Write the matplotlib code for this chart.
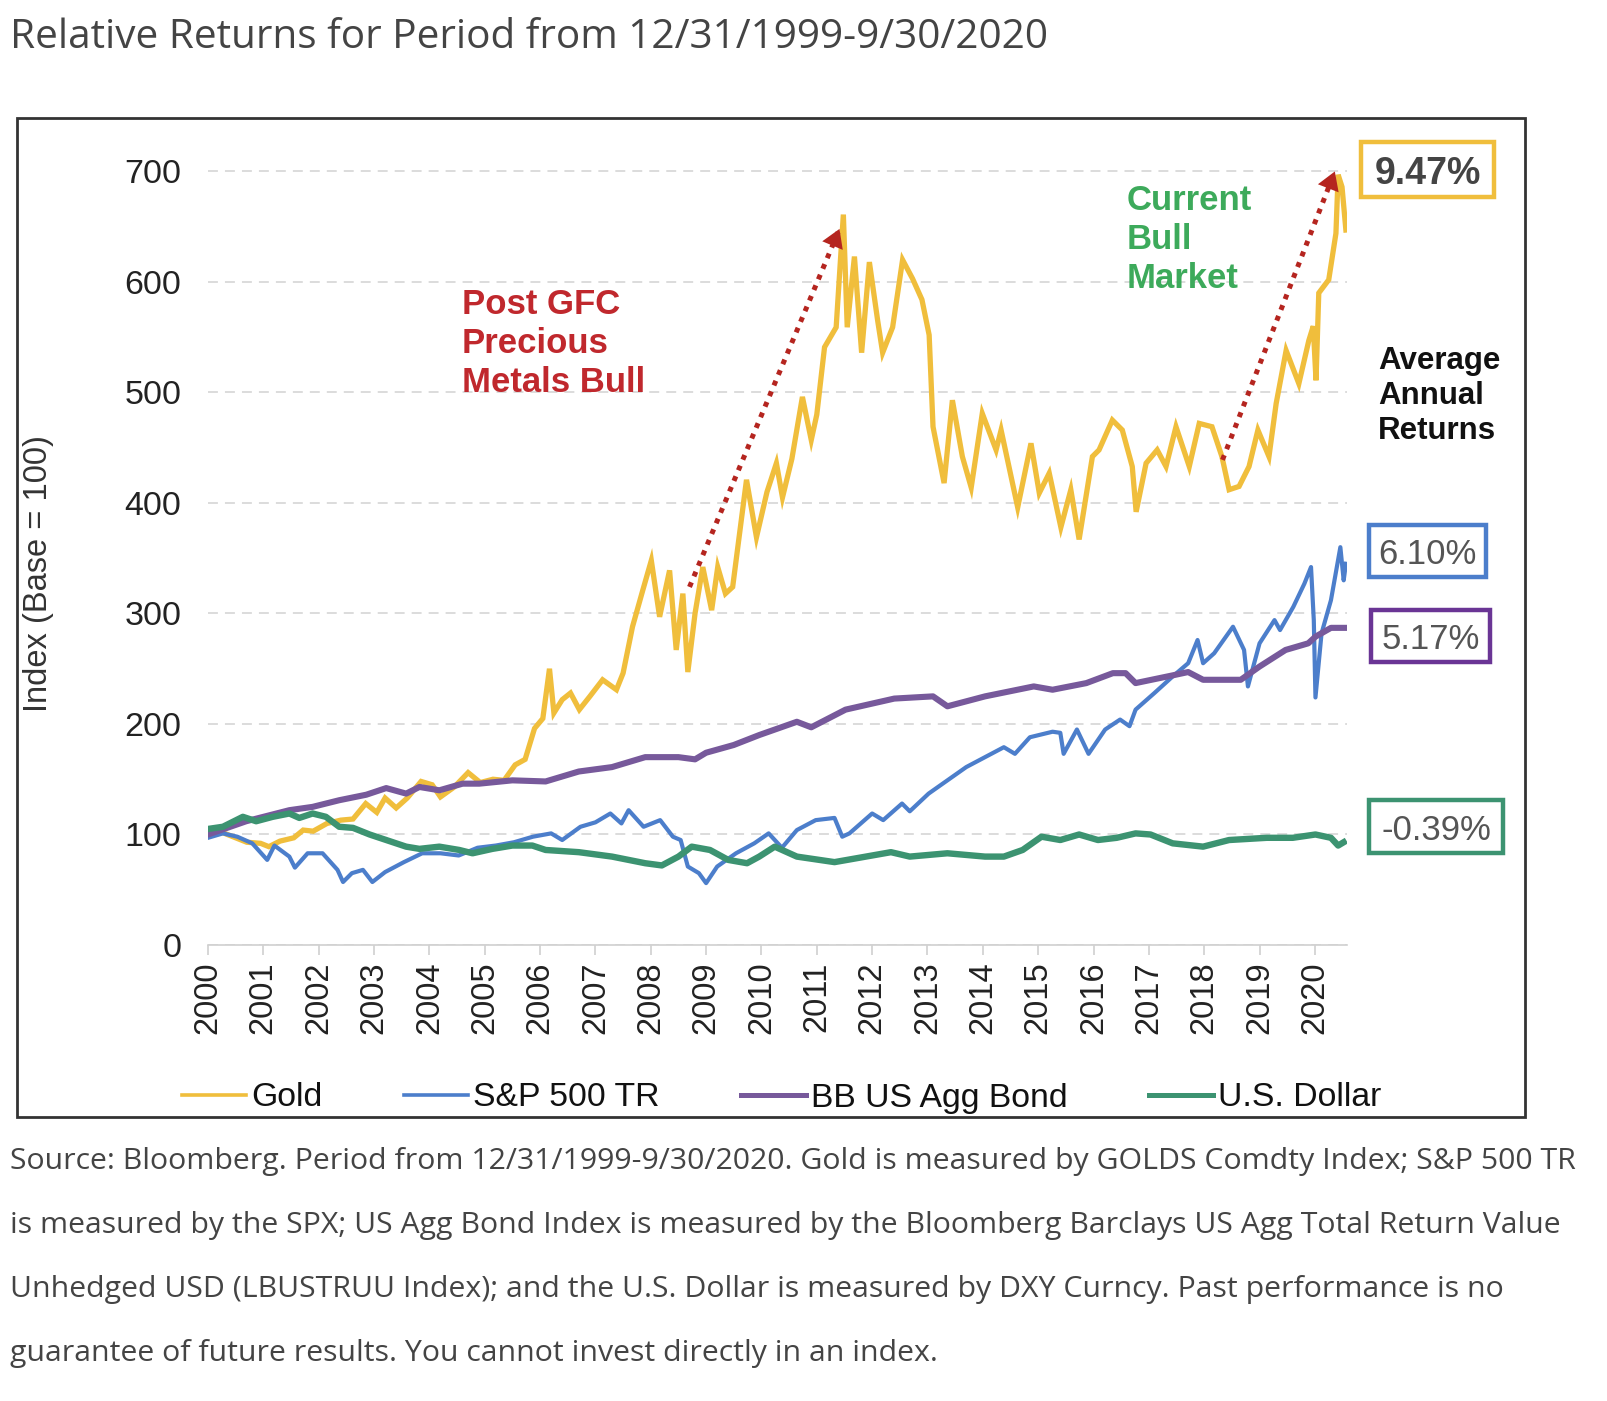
import matplotlib
matplotlib.use("Agg")
import matplotlib.pyplot as plt
from matplotlib.lines import Line2D
from matplotlib.patches import Rectangle

# ---- data (decimal year, index level) ----
gold_x = [2000.00, 2000.20, 2000.45, 2000.70, 2000.95, 2001.10, 2001.30, 2001.55, 2001.72, 2001.90,
          2002.15, 2002.40, 2002.62, 2002.85, 2003.05, 2003.20, 2003.40, 2003.60, 2003.85, 2004.05,
          2004.20, 2004.45, 2004.70, 2004.92, 2005.15, 2005.35, 2005.55, 2005.73, 2005.90, 2006.05,
          2006.17, 2006.25, 2006.40, 2006.55, 2006.71, 2006.90, 2007.13, 2007.38, 2007.50, 2007.67,
          2007.85, 2008.01, 2008.16, 2008.34, 2008.46, 2008.58, 2008.67, 2008.80, 2008.94, 2009.10,
          2009.21, 2009.35, 2009.48, 2009.73, 2009.91, 2010.10, 2010.27, 2010.38, 2010.55, 2010.74,
          2010.90, 2011.00, 2011.14, 2011.35, 2011.48, 2011.55, 2011.68, 2011.81, 2011.95, 2012.10,
          2012.19, 2012.37, 2012.55, 2012.73, 2012.90, 2013.03, 2013.10, 2013.30, 2013.45, 2013.63,
          2013.79, 2013.99, 2014.24, 2014.33, 2014.63, 2014.87, 2015.02, 2015.20, 2015.41, 2015.59,
          2015.74, 2015.98, 2016.10, 2016.34, 2016.52, 2016.70, 2016.77, 2016.95, 2017.15, 2017.31,
          2017.49, 2017.73, 2017.91, 2018.14, 2018.32, 2018.45, 2018.63, 2018.81, 2018.97, 2019.17,
          2019.30, 2019.48, 2019.71, 2019.89, 2019.97, 2020.02, 2020.07, 2020.25, 2020.38, 2020.42,
          2020.49, 2020.56]
gold_y = [101, 103, 98, 93, 92, 89, 94, 97, 104, 103,
          110, 113, 114, 128, 120, 133, 124, 133, 148, 145,
          134, 143, 156, 147, 150, 149, 163, 168, 196, 205,
          250, 210, 222, 228, 213, 225, 240, 231, 246, 288,
          320, 348, 297, 339, 267, 318, 247, 300, 342, 303,
          342, 318, 324, 421, 369, 410, 436, 405, 440, 496,
          457, 480, 541, 559, 661, 559, 623, 536, 618, 565,
          536, 559, 620, 603, 584, 552, 469, 418, 493, 442,
          414, 481, 448, 466, 396, 454, 409, 427, 378, 412,
          367, 442, 448, 475, 466, 433, 392, 436, 448, 433,
          469, 433, 472, 469, 442, 412, 415, 433, 466, 442,
          490, 538, 508, 547, 560, 511, 590, 602, 644, 697,
          686, 647]

spx_x = [2000.00, 2000.27, 2000.53, 2000.80, 2001.07, 2001.20, 2001.47, 2001.57, 2001.80, 2002.07,
         2002.34, 2002.44, 2002.60, 2002.80, 2002.97, 2003.20, 2003.54, 2003.87, 2004.20, 2004.53,
         2004.87, 2005.20, 2005.53, 2005.87, 2006.20, 2006.40, 2006.73, 2007.00, 2007.27, 2007.47,
         2007.60, 2007.87, 2008.17, 2008.40, 2008.54, 2008.67, 2008.87, 2009.00, 2009.20, 2009.54,
         2009.87, 2010.13, 2010.37, 2010.64, 2010.98, 2011.32, 2011.46, 2011.59, 2012.00, 2012.20,
         2012.54, 2012.68, 2013.02, 2013.36, 2013.70, 2014.04, 2014.38, 2014.58, 2014.85, 2015.26,
         2015.40, 2015.46, 2015.70, 2015.91, 2016.21, 2016.48, 2016.65, 2016.76, 2017.10, 2017.43,
         2017.71, 2017.88, 2017.98, 2018.18, 2018.52, 2018.72, 2018.79, 2019.00, 2019.27, 2019.37,
         2019.61, 2019.81, 2019.93, 2019.98, 2020.01, 2020.12, 2020.29, 2020.46, 2020.52, 2020.56]
spx_y = [97, 101, 98, 92, 77, 90, 80, 70, 83, 83,
         68, 57, 65, 68, 57, 66, 75, 83, 83, 81,
         88, 90, 93, 98, 101, 95, 107, 111, 119, 110,
         122, 107, 113, 98, 95, 71, 65, 56, 71, 83,
         92, 101, 88, 104, 113, 115, 98, 101, 119, 113,
         128, 121, 137, 149, 161, 170, 179, 173, 188, 193,
         192, 173, 195, 173, 195, 204, 198, 213, 228, 243,
         255, 276, 255, 264, 288, 267, 234, 273, 294, 285,
         306, 327, 342, 294, 224, 282, 312, 360, 330, 345]

agg_x = [2000.00, 2000.69, 2001.47, 2001.89, 2002.37, 2002.86, 2003.22, 2003.58, 2003.82, 2004.18,
         2004.60, 2004.90, 2005.50, 2006.10, 2006.70, 2007.30, 2007.90, 2008.50, 2008.80, 2009.00,
         2009.50, 2009.96, 2010.64, 2010.90, 2011.52, 2012.40, 2013.10, 2013.36, 2014.04, 2014.92,
         2015.26, 2015.87, 2016.35, 2016.58, 2016.76, 2017.43, 2017.71, 2017.98, 2018.66, 2019.00,
         2019.47, 2019.88, 2020.01, 2020.29, 2020.56]
agg_y = [100, 112, 122, 125, 131, 136, 142, 137, 143, 140,
         146, 146, 149, 148, 157, 161, 170, 170, 168, 174,
         181, 190, 202, 197, 213, 223, 225, 216, 225, 234,
         231, 237, 246, 246, 237, 244, 247, 240, 240, 252,
         267, 273, 279, 287, 287]

usd_x = [2000.00, 2000.27, 2000.63, 2000.87, 2001.17, 2001.47, 2001.65, 2001.89, 2002.13, 2002.37,
         2002.62, 2002.92, 2003.28, 2003.58, 2003.82, 2004.18, 2004.54, 2004.78, 2005.14, 2005.50,
         2005.86, 2006.10, 2006.70, 2007.30, 2007.90, 2008.20, 2008.50, 2008.74, 2009.07, 2009.40,
         2009.74, 2009.96, 2010.24, 2010.64, 2011.32, 2012.00, 2012.34, 2012.68, 2013.36, 2014.04,
         2014.38, 2014.72, 2015.06, 2015.40, 2015.74, 2016.08, 2016.42, 2016.76, 2017.03, 2017.43,
         2017.98, 2018.45, 2019.13, 2019.60, 2020.01, 2020.29, 2020.42, 2020.52]
usd_y = [105, 107, 116, 112, 116, 119, 115, 119, 116, 107,
         106, 100, 94, 89, 87, 89, 86, 83, 87, 90,
         90, 86, 84, 80, 74, 72, 80, 89, 86, 77,
         74, 80, 89, 80, 75, 81, 84, 80, 83, 80,
         80, 86, 98, 95, 100, 95, 97, 101, 100, 92,
         89, 95, 97, 97, 100, 97, 90, 93]

series_names = ["Gold", "S&P 500 TR", "BB US Agg Bond", "U.S. Dollar"]
avg_returns = ["9.47%", "6.10%", "5.17%", "-0.39%"]
year_ticks = list(range(2000, 2021))
value_ticks = list(range(0, 800, 100))

arrow_gfc = ((2008.70, 324), (2011.41, 648))
arrow_now = ((2018.33, 439), (2020.36, 700))

# ---- styling ----
GOLD, BLUE, PURPLE, GREEN = "#F0BE3C", "#4C7ECB", "#77599B", "#3C9371"
BOX_PURPLE = "#6A3595"
RED = "#B5251F"
W, H = 1607, 1401
FONT = ["Liberation Sans", "DejaVu Sans"]
WEB = ["Open Sans", "DejaVu Sans"]


def fx(px):
    return px / W


def fy(py):
    return 1 - py / H


fig = plt.figure(figsize=(W / 100, H / 100), dpi=100)
fig.patch.set_facecolor("white")

ax = fig.add_axes([fx(208), fy(945), (1347 - 208) / W, (945 - 158.2) / H])
ax.plot(gold_x, gold_y, color=GOLD, lw=3.8, zorder=3, solid_joinstyle="miter")
ax.plot(spx_x, spx_y, color=BLUE, lw=3.0, zorder=4)
ax.plot(agg_x, agg_y, color=PURPLE, lw=4.4, zorder=5)
ax.plot(usd_x, usd_y, color=GREEN, lw=4.6, zorder=6)

ax.set_xlim(2000, 2020.58)
ax.set_ylim(0, 712)
ax.set_yticks(value_ticks)
ax.set_xticks(year_ticks)
ax.set_yticklabels([str(v) for v in value_ticks], family=FONT, fontsize=24.5, color="#222")
ax.set_xticklabels([str(y) for y in year_ticks], family=FONT, fontsize=23.5, color="#222",
                   rotation=90)
ax.tick_params(axis="y", length=0, pad=19)
ax.tick_params(axis="x", length=7, width=1.2, color="#d0d0d0", pad=5)
for s in ["top", "right", "left"]:
    ax.spines[s].set_visible(False)
ax.spines["bottom"].set_color("#d0d0d0")
ax.spines["bottom"].set_linewidth(1.2)
ax.yaxis.grid(True, color="#d9d9d9", lw=1.3, ls=(0, (5.5, 3.9)))
ax.set_axisbelow(True)

# dotted arrows
for (x0, y0), (x1, y1) in [arrow_gfc, arrow_now]:
    ax.plot([x0, x1], [y0, y1], color=RED, lw=3.6, ls=(0, (1, 1.3)),
            dash_capstyle="butt", zorder=7)
    ax.annotate("", xy=(x1, y1), xytext=(x0, y0),
                arrowprops=dict(arrowstyle="-|>,head_length=0.65,head_width=0.4",
                                mutation_scale=20, color=RED, lw=0,
                                shrinkA=0, shrinkB=0), zorder=8)

# y label
fig.text(fx(39), fy(574), "Index (Base = 100)", rotation=90, ha="center", va="center",
         family=FONT, fontsize=23.5, color="#333")

# annotations
for i, line in enumerate(["Post GFC", "Precious", "Metals Bull"]):
    fig.text(fx(462), fy(304 + 39.5 * i), line, ha="left", va="center", family=FONT,
             fontsize=25, fontweight="bold", color="#C0282D")
for i, line in enumerate(["Current", "Bull", "Market"]):
    fig.text(fx(1127), fy(200 + 39.5 * i), line, ha="left", va="center", family=FONT,
             fontsize=25, fontweight="bold", color="#3DAA5B")
for i, line in enumerate(["Average", "Annual", "Returns"]):
    fig.text(fx(1378), fy(361 + 35 * i), line, ha="left", va="center", family=FONT,
             fontsize=22.5, fontweight="bold", color="#111")

# return boxes (x0, y0, x1, y1 in pixels)
boxes = [(1361, 142, 1494, 197), (1369, 525, 1486, 577), (1371, 610, 1490, 662),
         (1369, 800, 1503, 853)]
box_colors = [GOLD, BLUE, BOX_PURPLE, GREEN]
for (x0, y0, x1, y1), col, txt, k in zip(boxes, box_colors, avg_returns, range(4)):
    fig.add_artist(Rectangle((fx(x0), fy(y1)), (x1 - x0) / W, (y1 - y0) / H,
                             transform=fig.transFigure, facecolor="white",
                             edgecolor=col, lw=3.2))
    fig.text(fx((x0 + x1) / 2), fy((y0 + y1) / 2), txt, ha="center", va="center_baseline",
             family=FONT, fontsize=27 if k == 0 else 25,
             fontweight="bold" if k == 0 else "normal", color="#444" if k == 0 else "#555")

# legend
handles = [Line2D([], [], color=GOLD, lw=2.6), Line2D([], [], color=BLUE, lw=2.6),
           Line2D([], [], color=PURPLE, lw=3.6), Line2D([], [], color=GREEN, lw=3.6)]
leg = ax.legend(handles, series_names, loc="center left", bbox_to_anchor=(fx(182), fy(1098)),
                bbox_transform=fig.transFigure, ncol=4, frameon=False, handlelength=1.9,
                handletextpad=0.15, columnspacing=2.42, borderpad=0, borderaxespad=0,
                prop={"family": FONT, "size": 24.3})
for t in leg.get_texts():
    t.set_color("#111")

# outer frame
fig.add_artist(Rectangle((fx(17), fy(1117)), (1525 - 17) / W, (1117 - 118) / H,
                         transform=fig.transFigure, fill=False, edgecolor="#333", lw=2))

# title and source note
fig.text(fx(10), fy(38), "Relative Returns for Period from 12/31/1999-9/30/2020",
         ha="left", va="center", family=WEB, fontsize=29.2, color="#444")
notes = ["Source: Bloomberg. Period from 12/31/1999-9/30/2020. Gold is measured by GOLDS Comdty Index; S&P 500 TR",
         "is measured by the SPX; US Agg Bond Index is measured by the Bloomberg Barclays US Agg Total Return Value",
         "Unhedged USD (LBUSTRUU Index); and the U.S. Dollar is measured by DXY Curncy. Past performance is no",
         "guarantee of future results. You cannot invest directly in an index."]
for i, line in enumerate(notes):
    fig.text(fx(10), fy(1162 + 64 * i), line, ha="left", va="center", family=WEB,
             fontsize=21.8, color="#444")

fig.savefig("out.png", dpi=100)
